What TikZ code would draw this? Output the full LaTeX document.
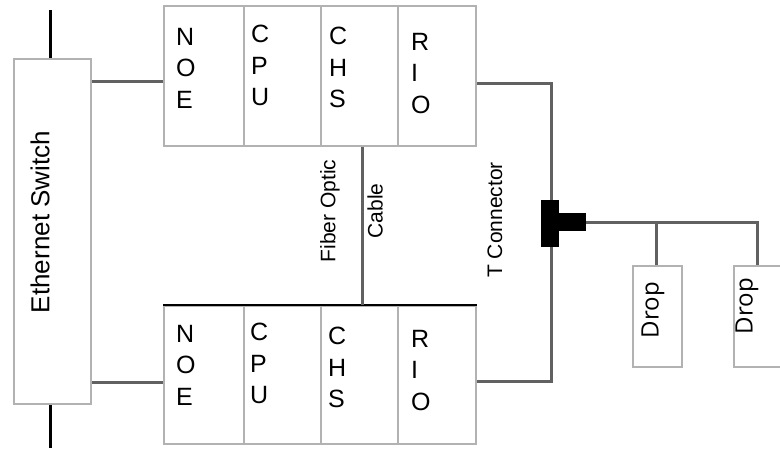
\documentclass[tikz,border=0pt]{standalone}
\usepackage{fontspec}
\setmainfont{Liberation Sans}
\newfontfamily\dropfont{Open Sans}
\begin{document}
\begin{tikzpicture}[x=1pt,y=-1pt,
  box/.style={draw=gray!60,line width=2pt,fill=white,inner sep=0pt,anchor=north west},
  wire/.style={draw=black!62,line width=3pt},
  blk/.style={draw=black,line width=3pt},
  letters/.style={anchor=north west,inner sep=0pt,align=left,font=\fontsize{25}{31.5}\selectfont},
  vlab/.style={rotate=90,inner sep=0pt,font=\fontsize{21}{24}\selectfont},
  droplab/.style={rotate=90,inner sep=0pt,font=\dropfont\fontsize{24}{28}\selectfont}]
\useasboundingbox (0,0) rectangle (780,450);
\fill[white] (0,0) rectangle (780,450);
% ethernet switch
\node[box,minimum width=77,minimum height=345] (sw) at (13,58) {};
\node[vlab,font=\fontsize{26}{30}\selectfont] (swl) at (40,222) {Ethernet Switch};
\coordinate (swt) at (50,10);
\coordinate (swb) at (50,448);
\draw[blk] (swt) -- (sw.north -| swt);
\draw[blk] (sw.south -| swb) -- (swb);
% top rack
\node[box,minimum width=80,minimum height=140] (noeT) at (163,5) {};
\node[box,minimum width=77,minimum height=140] (cpuT) at (243,5) {};
\node[box,minimum width=77,minimum height=140] (chsT) at (320,5) {};
\node[box,minimum width=78,minimum height=140] (rioT) at (397,5) {};
\node[letters] (tNOE) at (176,28) {N\\O\\E};
\node[letters] (tCPU) at (251,25) {C\\P\\U};
\node[letters] (tCHS) at (329,27) {C\\H\\S};
\node[letters] (tRIO) at (411,33) {R\\I\\O};
% bottom rack
\node[box,minimum width=80,minimum height=138] (noeB) at (163,305) {};
\node[box,minimum width=77,minimum height=138] (cpuB) at (243,305) {};
\node[box,minimum width=77,minimum height=138] (chsB) at (320,305) {};
\node[box,minimum width=78,minimum height=138] (rioB) at (397,305) {};
\draw[black,line width=2.2pt] (noeB.north west) -- (rioB.north east);
\node[letters] (bNOE) at (176,325) {N\\O\\E};
\node[letters] (bCPU) at (250,323) {C\\P\\U};
\node[letters] (bCHS) at (328,327) {C\\H\\S};
\node[letters] (bRIO) at (411,330) {R\\I\\O};
% switch links
\draw[wire] ([yshift=-5]sw.east |- noeT.west) -- ([yshift=-5]noeT.west);
\draw[wire] ([yshift=-7]sw.east |- noeB.west) -- ([yshift=-7]noeB.west);
% fiber optic
\draw[wire] ([xshift=2.5]chsT.south) -- ([xshift=2.5]chsB.north);
\node[vlab] (fo) at (330,211) {Fiber Optic};
\node[vlab] (cab) at (375,211) {Cable};
% T connector
\node[fill=black,minimum width=18,minimum height=47,inner sep=0pt] (tcon) at (550,223.5) {};
\node[fill=black,minimum width=28,minimum height=18,inner sep=0pt,anchor=west] (tstub) at (558,222) {};
\node[vlab] (tl) at (495,220) {T Connector};
\coordinate (rc) at (551,0);
\draw[wire] ([yshift=-7]rioT.east) -| (rc |- tcon.north);
\draw[wire] ([yshift=-6]rioB.east) -| (rc |- tcon.south);
% drops
\node[box,minimum width=49,minimum height=101] (d1) at (632,265) {};
\node[box,minimum width=49,minimum height=101] (d2) at (733,265) {};
\node[droplab] (d1l) at (653,310) {Drop};
\node[droplab] (d2l) at (747,306) {Drop};
\coordinate (j1) at (656,222);
\coordinate (j2) at (757,222);
\draw[wire] (tstub.east) -- (j2) -- (j2 |- d2.north);
\draw[wire] (j1) -- (j1 |- d1.north);
\end{tikzpicture}
\end{document}
